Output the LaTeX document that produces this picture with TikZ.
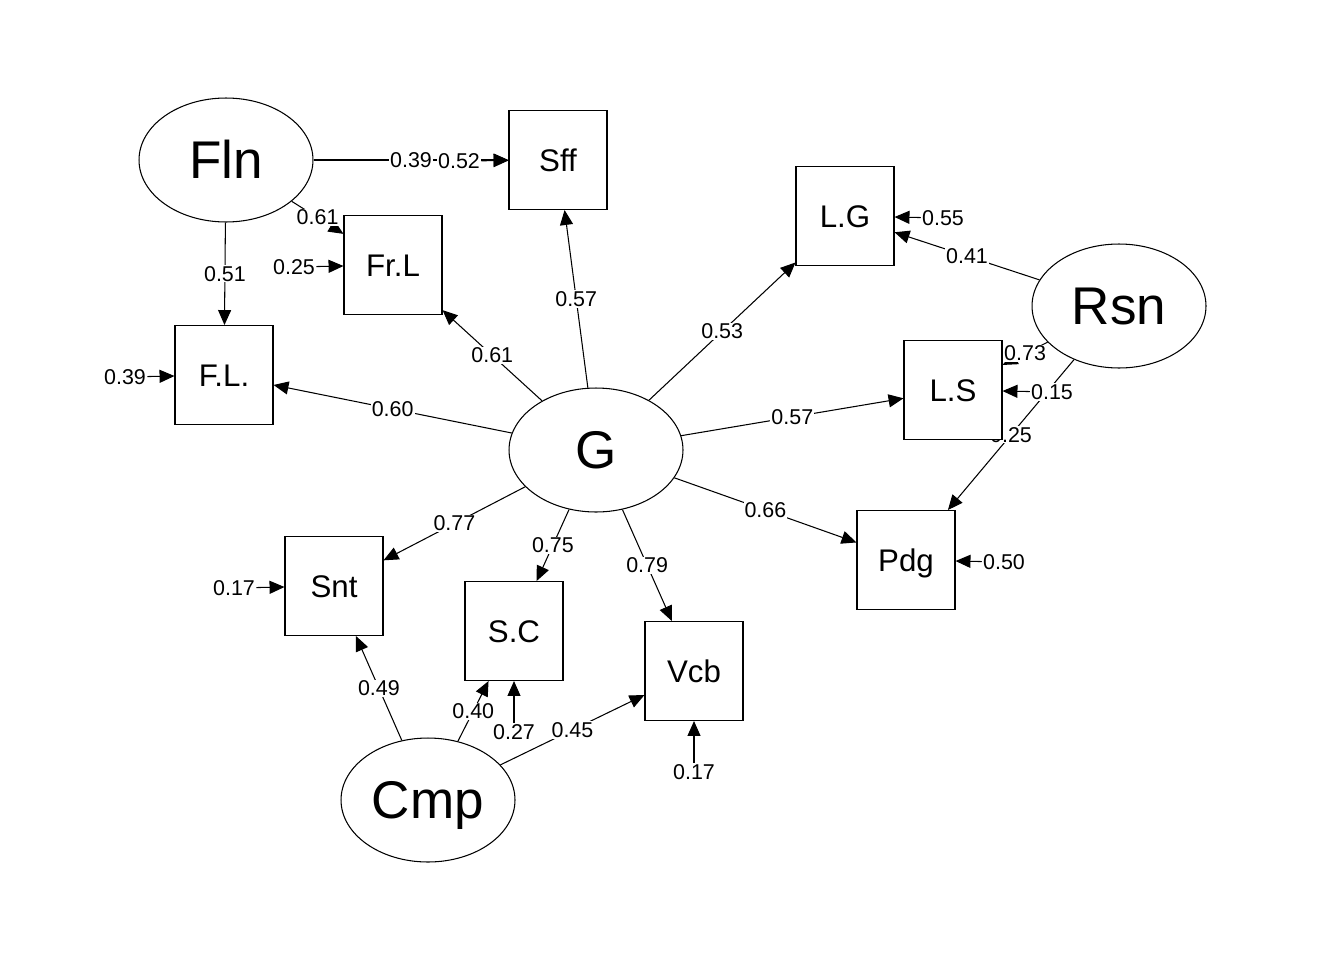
\documentclass[tikz,border=0pt]{standalone}
\usepackage{fontspec}
\setmainfont{Liberation Sans}
\usetikzlibrary{shapes.geometric,arrows.meta}
\pgfdeclarelayer{bg}
\pgfsetlayers{bg,main}
\begin{document}
\begin{tikzpicture}[x=0.02cm,y=-0.02cm,
 lat/.style={ellipse,draw,fill=white,line width=0.6pt,minimum width=3.48cm,minimum height=2.48cm,inner sep=0pt,font=\fontsize{30.2}{32}\selectfont,text height=21.6pt,text depth=0pt},
 obs/.style={rectangle,draw,fill=white,line width=0.6pt,minimum width=1.96cm,minimum height=1.98cm,inner sep=0pt,font=\fontsize{17.8}{20}\selectfont,text height=12.7pt,text depth=0pt},
 arr/.style={line width=0.6pt,-{Triangle[length=8.5pt,width=7.4pt]}},
 lab/.style={fill=white,inner sep=0.6pt,font=\fontsize{12.2}{14}\selectfont},
]
\useasboundingbox (0,0) rectangle (1344,960);
% latent variables
\node[lat] (Fln) at (226,160) {Fln};
\node[lat] (Rsn) at (1119,306) {Rsn};
\node[lat] (G) at (596,450) {G};
\node[lat] (Cmp) at (428,800) {Cmp};
% observed variables
\node[obs] (Sff) at (558,160) {Sff};
\node[obs] (FrL) at (393,265) {Fr.L};
\node[obs] (FL) at (224,375) {F.L.};
\node[obs] (LG) at (845,216) {L.G};
\node[obs] (LS) at (953,390) {L.S};
\node[obs] (Pdg) at (906,560) {Pdg};
\node[obs] (Snt) at (334,586) {Snt};
\node[obs] (SC) at (514,631) {S.C};
\node[obs] (Vcb) at (694,671) {Vcb};
% residual labels
\node[lab] (rFL) at (125,377) {0.39};
\node[lab] (rFrL) at (294,267) {0.25};
\node[lab] (rSff) at (459,161) {0.52};
\node[lab] (rLG) at (943,218) {0.55};
\node[lab] (rLS) at (1052,392) {0.15};
\node[lab] (rPdg) at (1004,562) {0.50};
\node[lab] (rSnt) at (234,588) {0.17};
\node[lab] (rSC) at (514,732) {0.27};
\node[lab] (rVcb) at (694,772) {0.17};
\begin{pgfonlayer}{bg}
% Fln loadings
\draw[arr] (Fln) -- node[lab] {0.39} (Sff);
\draw[arr] (Fln) -- node[lab] {0.61} (FrL);
\draw[arr] (Fln) -- node[lab] {0.51} (FL);
% G loadings
\draw[arr] (G) -- node[lab] {0.60} (FL);
\draw[arr] (G) -- node[lab] {0.61} (FrL);
\draw[arr] (G) -- node[lab] {0.57} (Sff);
\draw[arr] (G) -- node[lab] {0.53} (LG);
\draw[arr] (G) -- node[lab] {0.57} (LS);
\draw[arr] (G) -- node[lab] {0.66} (Pdg);
\draw[arr] (G) -- node[lab] {0.77} (Snt);
\draw[arr] (G) -- node[lab] {0.75} (SC);
\draw[arr] (G) -- node[lab] {0.79} (Vcb);
% Rsn loadings
\draw[arr] (Rsn) -- node[lab] {0.41} (LG);
\draw[arr] (Rsn) -- node[lab] {0.73} (LS);
\draw[arr] (Rsn) -- node[lab] {0.25} (Pdg);
% Cmp loadings
\draw[arr] (Cmp) -- node[lab] {0.49} (Snt);
\draw[arr] (Cmp) -- node[lab] {0.40} (SC);
\draw[arr] (Cmp) -- node[lab] {0.45} (Vcb);
% residual arrows
\draw[arr] (rFL) -- (FL);
\draw[arr] (rFrL) -- (FrL);
\draw[arr] (rSff) -- (Sff);
\draw[arr] (rLG) -- (LG);
\draw[arr] (rLS) -- (LS);
\draw[arr] (rPdg) -- (Pdg);
\draw[arr] (rSnt) -- (Snt);
\draw[arr] (rSC) -- (SC);
\draw[arr] (rVcb) -- (Vcb);
\end{pgfonlayer}
\end{tikzpicture}
\end{document}
